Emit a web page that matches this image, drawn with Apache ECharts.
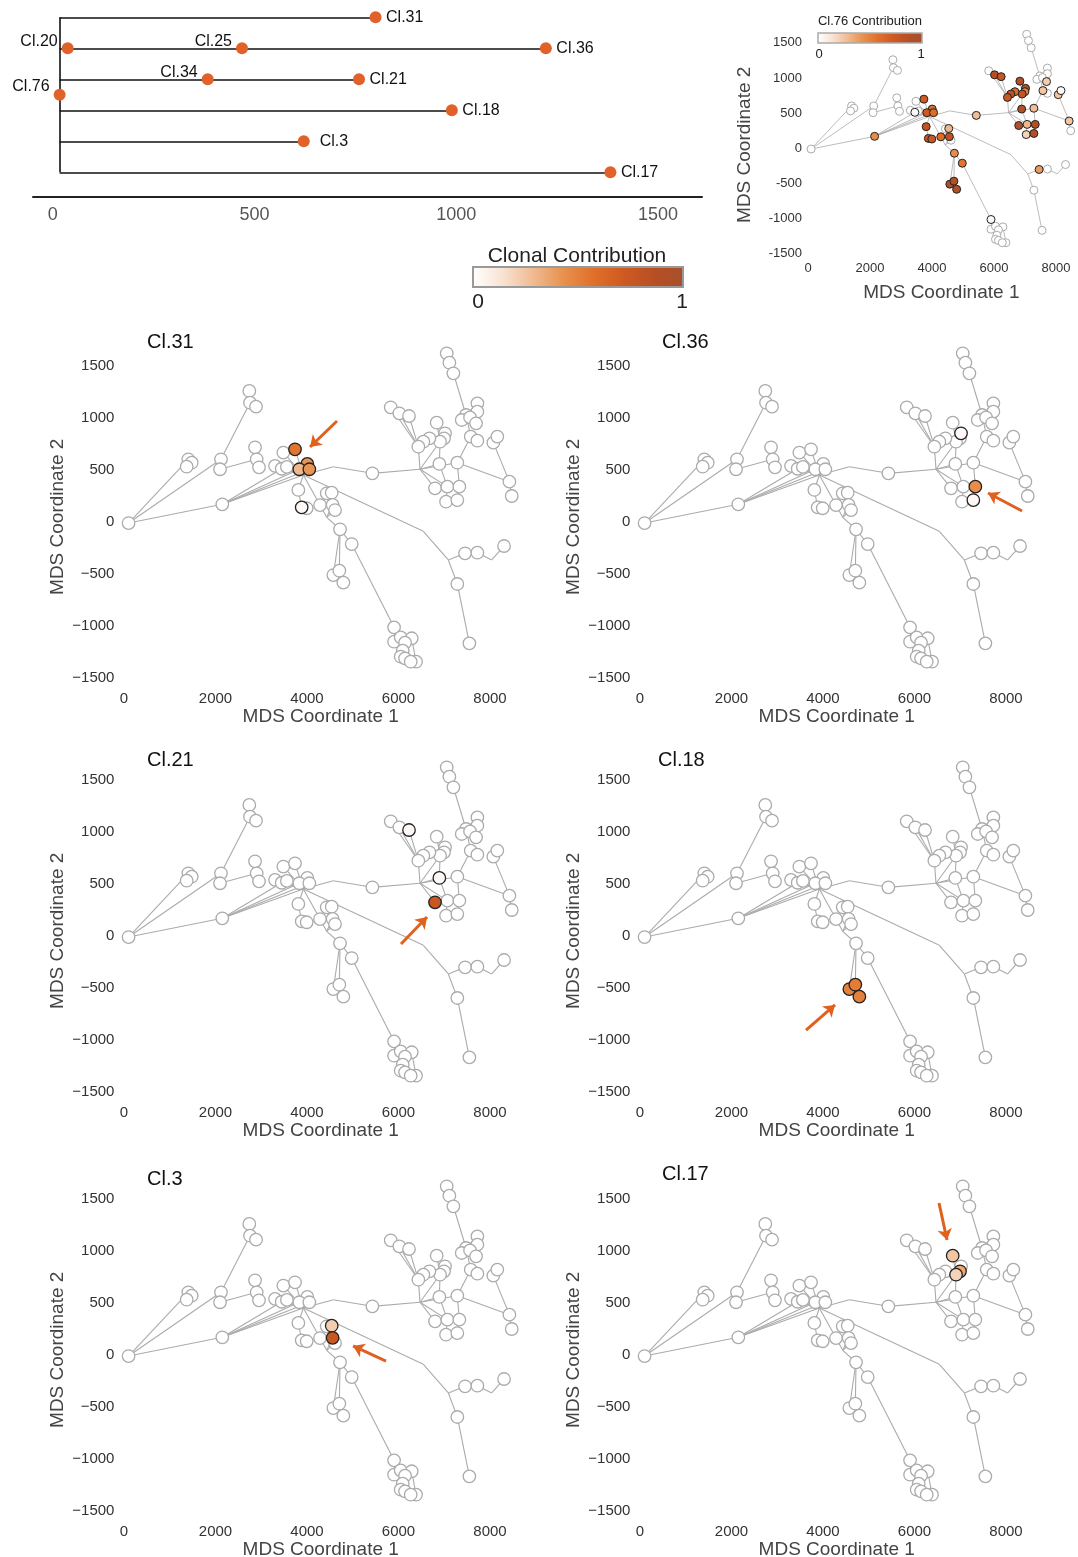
<!DOCTYPE html>
<html>
<head>
<meta charset="utf-8">
<script src="https://cdn.jsdelivr.net/npm/echarts@6/dist/echarts.min.js"></script>
<style>
  html, body { margin: 0; padding: 0; background: #fff; }
  #chart { width: 1078px; height: 1557px; }
</style>
</head>
<body>
<div id="chart"></div>
<script>
// ---- dendrogram data ----
const cloneNames = ['Cl.31', 'Cl.20', 'Cl.25', 'Cl.36', 'Cl.34', 'Cl.21', 'Cl.76', 'Cl.18', 'Cl.3', 'Cl.17']
const cloneDist = [800, 37, 469, 1222, 384, 759, 17, 989, 622, 1382]
const cloneRow = [0, 1, 1, 1, 2, 2, 2.5, 3, 4, 5]
const branchEnd = [800, 1222, 759, 989, 622, 1382] // one per row
const trunkX = 17
const dendroTicks = [0, 500, 1000, 1500]

// ---- MDS network (same layout in every panel) ----
const nodeX = [100, 1406, 1480, 1370, 2120, 2099, 2739, 2754, 2886, 2864,
  2900, 2951, 2149, 3301, 3447, 3483, 3738, 4007, 3832, 4051,
  3811, 3884, 3993, 4431, 4540, 4284, 4560, 4613, 4722, 4977,
  4576, 4707, 4795, 5429, 5903, 5903, 6048, 6289, 6143, 6092,
  6048, 6143, 6383, 6267, 7455, 7724, 8307, 7286, 7549, 7054,
  7112, 7200, 5830, 6018, 6230, 6835, 7017, 6995, 6908, 6675,
  6543, 6434, 6893, 7286, 7476, 7724, 7724, 7382, 7564, 7695,
  7579, 7724, 8073, 8160, 8424, 8475, 6798, 7068, 7330, 7039,
  7286, 3560]
const nodeY = [-10, 603, 570, 532, 603, 507, 1260, 1147, 1109, 718,
  603, 526, 170, 540, 512, 668, 699, 558, 507, 507,
  308, 141, 132, 276, 282, 163, 165, 115, -70, -212,
  -510, -468, -583, 468, -1013, -1151, -1109, -1118, -1160, -1237,
  -1295, -1311, -1343, -1343, -301, -295, -231, -596, -1167, 1622,
  1532, 1430, 1103, 1045, 1019, 955, 853, 805, 772, 805,
  772, 724, 558, 570, 1029, 1141, 1061, 981, 1006, 949,
  821, 782, 763, 821, 388, 250, 324, 340, 340, 195,
  211, 530]
// branch points without a circle
const junctionX = [3920, 4576, 6470, 6543, 7090, 8037, 4431]
const junctionY = [452, 532, 507, -90, -365, -365, 45]
// numbers = nodes, 'jK' = junction K
const edges = [
  [0, 1], [0, 4], [0, 12], [1, 2], [1, 3], [4, 5], [4, 7], [6, 7], [7, 8], [5, 10], [9, 10], [10, 11],
  [12, 'j0'], [12, 18], [12, 14], [12, 19],
  ['j0', 13], [13, 14], ['j0', 15], ['j0', 16], ['j0', 17], ['j0', 18], ['j0', 19], ['j0', 81], ['j0', 20], [20, 21], [21, 22],
  ['j0', 25], [25, 'j6'], [23, 24], [24, 26], [26, 'j6'], [27, 'j6'], ['j6', 28],
  [28, 30], [28, 31], [30, 31], [31, 32], [28, 29], [29, 34],
  [34, 35], [35, 36], [36, 37], [36, 38], [38, 39], [39, 40], [40, 41], [41, 43], [43, 42], [37, 42],
  ['j0', 'j1'], ['j1', 33], [33, 'j2'],
  ['j0', 'j3'], ['j3', 'j4'], ['j4', 47], [47, 48], ['j4', 44], [44, 45], [45, 'j5'], ['j5', 46],
  ['j2', 61], ['j2', 58], ['j2', 77], ['j2', 76], ['j2', 62], ['j2', 63],
  [61, 52], [61, 53], [61, 54], [61, 60], [60, 59],
  [58, 57], [57, 56], [58, 55], [62, 58], [62, 77],
  [77, 79], [63, 78], [78, 80], [63, 74], [74, 75], [74, 72], [72, 73], [63, 70], [70, 71],
  [70, 64], [64, 67], [64, 68], [64, 65], [64, 66], [64, 69], [64, 51], [51, 50], [50, 49]
]
const mdsXTicks = [0, 2000, 4000, 6000, 8000]
const mdsYTicks = [-1500, -1000, -500, 0, 500, 1000, 1500]

// ---- contributions: [node, value] ----
const cl76Contrib = [[12, 0.45], [14, 0.03], [16, 0.72], [17, 0.6], [18, 0.72], [19, 0.6], [20, 0.8], [21, 0.75],
  [22, 0.75], [25, 0.6], [24, 0.3], [26, 0.8], [28, 0.45], [29, 0.55], [30, 0.9], [31, 0.9], [32, 0.92],
  [33, 0.28], [34, 0.03], [53, 0.88], [54, 0.75], [55, 0.9], [59, 0.6], [60, 0.82], [61, 0.75], [56, 0.9],
  [57, 0.5], [58, 0.78], [62, 0.9], [63, 0.28], [70, 0.25], [69, 0.22], [72, 0.25], [73, 0.02], [74, 0.25],
  [76, 0.9], [77, 0.3], [78, 0.9], [79, 0.2], [80, 0.9], [44, 0.4]]
const cl31Contrib = [[16, 0.55], [17, 0.42], [19, 0.42], [18, 0.3], [21, 0.03]]
const cl36Contrib = [[78, 0.45], [56, 0.03], [80, 0.03]]
const cl21Contrib = [[54, 0.03], [62, 0.03], [76, 0.75]]
const cl18Contrib = [[30, 0.5], [31, 0.52], [32, 0.5]]
const cl3Contrib = [[24, 0.22], [26, 0.75]]
const cl17Contrib = [[55, 0.25], [58, 0.2], [57, 0.35]]

// arrows in MDS units: tail x, tail y, head x, head y
const cl31Arrow = [4656, 971, 4066, 721]
const cl36Arrow = [8351, 106, 7607, 279]
const cl21Arrow = [6055, -77, 6624, 183]
const cl18Arrow = [3629, -904, 4263, -663]
const cl3Arrow = [5727, -58, 5006, 87]
const cl17Arrow = [6536, 1461, 6711, 1106]

const palette = ['#ffffff', '#f9e3d3', '#f0bb93', '#e8924f', '#e0702a', '#cf5a22', '#b84f24', '#a5502c']
const fontFamily = 'Liberation Sans, Arial, Helvetica, sans-serif'
const dotColor = '#e0622a'
const arrowColor = '#e0601e'

const chart = echarts.init(document.getElementById('chart'), null, { renderer: 'canvas' })

function pointOf (ref) {
  if (typeof ref === 'string') {
    const k = +ref.slice(1)
    return [junctionX[k], junctionY[k]]
  }
  return [nodeX[ref], nodeY[ref]]
}
const edgeData = edges.map(e => ({ coords: [pointOf(e[0]), pointOf(e[1])] }))

function nodeData (contrib) {
  const val = nodeX.map(() => 0)
  contrib.forEach(c => { val[c[0]] = c[1] })
  const plain = []
  const coloured = []
  nodeX.forEach((x, i) => {
    const v = val[i]
    if (v > 0) {
      coloured.push({ value: [x, nodeY[i], v], itemStyle: { color: echarts.color.lerp(v, palette), borderColor: '#222' } })
    } else {
      plain.push({ value: [x, nodeY[i], 0], itemStyle: { color: '#fff', borderColor: '#ababab' } })
    }
  })
  return plain.concat(coloured)
}

const panels = [
  { contrib: cl76Contrib, arrow: null, x0: 808, y0: 148.3, kx: 0.031, ky: 0.0703, small: true },
  { title: 'Cl.31', contrib: cl31Contrib, arrow: cl31Arrow, x0: 124, y0: 522, kx: 0.04575, ky: 0.104, tx: 147, ty: 332 },
  { title: 'Cl.36', contrib: cl36Contrib, arrow: cl36Arrow, x0: 640, y0: 522, kx: 0.04575, ky: 0.104, tx: 662, ty: 332 },
  { title: 'Cl.21', contrib: cl21Contrib, arrow: cl21Arrow, x0: 124, y0: 936, kx: 0.04575, ky: 0.104, tx: 147, ty: 750 },
  { title: 'Cl.18', contrib: cl18Contrib, arrow: cl18Arrow, x0: 640, y0: 936, kx: 0.04575, ky: 0.104, tx: 658, ty: 750 },
  { title: 'Cl.3', contrib: cl3Contrib, arrow: cl3Arrow, x0: 124, y0: 1355, kx: 0.04575, ky: 0.104, tx: 147, ty: 1169 },
  { title: 'Cl.17', contrib: cl17Contrib, arrow: cl17Arrow, x0: 640, y0: 1355, kx: 0.04575, ky: 0.104, tx: 662, ty: 1164 }
]
const xMin = -100
const xMax = 8700
const yMin = -1600
const yMax = 1700

const grids = []
const xAxes = []
const yAxes = []
const series = []
const titles = []

// dendrogram grid
grids.push({ left: 33, top: 10, width: 669, height: 186.7, outerBoundsMode: 'none', containLabel: false })
xAxes.push({
  type: 'value', gridIndex: 0, min: -49, max: 1609, position: 'bottom',
  axisLine: { show: true, onZero: false, lineStyle: { color: '#222', width: 2 } },
  axisTick: { show: false },
  splitLine: { show: false },
  axisLabel: { customValues: dendroTicks, fontSize: 18, color: '#555', margin: 9, fontFamily, formatter: v => String(v) }
})
yAxes.push({ type: 'value', gridIndex: 0, min: -0.235, max: 5.787, inverse: true, show: false })

const branchData = branchEnd.map((x, row) => ({ coords: [[trunkX, row], [x, row]] }))
branchData.push({ coords: [[trunkX, 0], [trunkX, 5]] })
series.push({
  type: 'lines', coordinateSystem: 'cartesian2d', xAxisIndex: 0, yAxisIndex: 0, clip: false,
  lineStyle: { color: '#111', width: 1.6, opacity: 1 }, data: branchData, silent: true
})
const leftLabels = ['Cl.20', 'Cl.25', 'Cl.34', 'Cl.76']
series.push({
  type: 'scatter', xAxisIndex: 0, yAxisIndex: 0, symbolSize: 12, clip: false,
  itemStyle: { color: dotColor, opacity: 1 },
  data: cloneNames.map((n, i) => {
    const left = leftLabels.includes(n)
    return {
      name: n,
      value: [cloneDist[i], cloneRow[i]],
      label: {
        show: true, formatter: n, position: left ? 'left' : 'right',
        distance: left ? 4 : (n === 'Cl.3' ? 10 : 4.5),
        offset: left ? [0, n === 'Cl.76' ? -8 : -7] : [0, 0],
        fontSize: 16, color: '#111', fontFamily
      }
    }
  })
})

panels.forEach((p, k) => {
  const gi = k + 1
  grids.push({
    left: p.x0 + xMin * p.kx,
    top: p.y0 - yMax * p.ky,
    width: (xMax - xMin) * p.kx,
    height: (yMax - yMin) * p.ky,
    outerBoundsMode: 'none',
    containLabel: false
  })
  const tickSize = p.small ? 13 : 15
  const minus = v => String(v).replace('-', p.small ? '-' : '\u2212')
  xAxes.push({
    type: 'value', gridIndex: gi, min: xMin, max: xMax,
    axisLine: { show: false }, axisTick: { show: false }, splitLine: { show: false },
    axisLabel: { customValues: mdsXTicks, fontSize: tickSize, color: '#333', margin: p.small ? 1 : 3, fontFamily, formatter: v => String(v) },
    name: 'MDS Coordinate 1', nameLocation: 'middle', nameGap: p.small ? 22.5 : 15.5,
    nameTextStyle: { fontSize: 19, color: '#444', fontFamily }
  })
  yAxes.push({
    type: 'value', gridIndex: gi, min: yMin, max: yMax,
    axisLine: { show: false }, axisTick: { show: false }, splitLine: { show: false },
    axisLabel: { customValues: mdsYTicks, fontSize: tickSize, color: '#333', margin: p.small ? 3 : 5, formatter: minus, fontFamily },
    name: 'MDS Coordinate 2', nameLocation: 'middle', nameGap: p.small ? 50.5 : 52.5,
    nameTextStyle: { fontSize: 19, color: '#444', fontFamily }
  })
  series.push({
    type: 'lines', coordinateSystem: 'cartesian2d', xAxisIndex: gi, yAxisIndex: gi, clip: false,
    lineStyle: { color: '#ababab', width: p.small ? 0.8 : 1.1, opacity: 1 },
    data: edgeData, silent: true
  })
  series.push({
    type: 'scatter', xAxisIndex: gi, yAxisIndex: gi, clip: false,
    symbolSize: p.small ? 8 : 12.5,
    itemStyle: { borderWidth: p.small ? 1 : 1.3, opacity: 1 },
    data: nodeData(p.contrib), silent: true
  })
  if (p.arrow) {
    const a = p.arrow
    series.push({
      type: 'lines', coordinateSystem: 'cartesian2d', xAxisIndex: gi, yAxisIndex: gi, clip: false,
      symbol: ['none', 'arrow'], symbolSize: 11,
      lineStyle: { color: arrowColor, width: 3, opacity: 1 },
      data: [{ coords: [[a[0], a[1]], [a[2], a[3]]] }], silent: true
    })
  }
  if (p.title) {
    titles.push({
      text: p.title, left: p.tx, top: p.ty, padding: 0,
      textStyle: { fontSize: 20, fontWeight: 'normal', color: '#111', fontFamily }
    })
  }
})

function gradient () {
  return new echarts.graphic.LinearGradient(0, 0, 1, 0,
    palette.map((c, i) => ({ offset: i / (palette.length - 1), color: c })))
}

const option = {
  backgroundColor: '#fff',
  animation: false,
  textStyle: { fontFamily },
  title: titles,
  grid: grids,
  xAxis: xAxes,
  yAxis: yAxes,
  series: series,
  graphic: [
    // main colour bar
    { type: 'text', x: 577, y: 256, style: { text: 'Clonal Contribution', fontSize: 21, fill: '#222', align: 'center', verticalAlign: 'middle', fontFamily } },
    { type: 'rect', shape: { x: 473, y: 267, width: 210, height: 20 }, style: { fill: gradient(), stroke: '#999', lineWidth: 2 } },
    { type: 'text', x: 478, y: 302, style: { text: '0', fontSize: 21, fill: '#222', align: 'center', verticalAlign: 'middle', fontFamily } },
    { type: 'text', x: 682, y: 302, style: { text: '1', fontSize: 21, fill: '#222', align: 'center', verticalAlign: 'middle', fontFamily } },
    // small colour bar
    { type: 'text', x: 870, y: 21, style: { text: 'Cl.76 Contribution', fontSize: 13, fill: '#222', align: 'center', verticalAlign: 'middle', fontFamily } },
    { type: 'rect', shape: { x: 818, y: 33, width: 104, height: 10 }, style: { fill: gradient(), stroke: '#aaa', lineWidth: 1.5 } },
    { type: 'text', x: 819, y: 54, style: { text: '0', fontSize: 13, fill: '#222', align: 'center', verticalAlign: 'middle', fontFamily } },
    { type: 'text', x: 921, y: 54, style: { text: '1', fontSize: 13, fill: '#222', align: 'center', verticalAlign: 'middle', fontFamily } }
  ]
}
chart.setOption(option)
</script>
</body>
</html>
